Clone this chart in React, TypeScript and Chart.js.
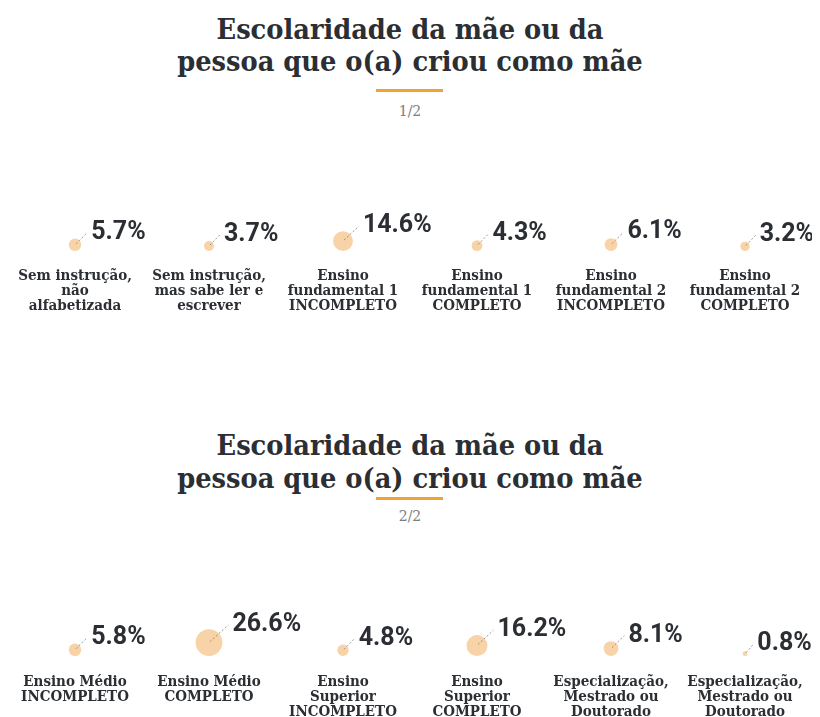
import React, { useEffect, useRef } from "react";
import { Chart, registerables } from "chart.js";

Chart.register(...registerables);

// ---------- data ----------
const titleLines = ["Escolaridade da mãe ou da", "pessoa que o(a) criou como mãe"];
const pageLabels = ["1/2", "2/2"];

const categories1: string[][] = [
  ["Sem instrução,", "não", "alfabetizada"],
  ["Sem instrução,", "mas sabe ler e", "escrever"],
  ["Ensino", "fundamental 1", "INCOMPLETO"],
  ["Ensino", "fundamental 1", "COMPLETO"],
  ["Ensino", "fundamental 2", "INCOMPLETO"],
  ["Ensino", "fundamental 2", "COMPLETO"],
];
const values1 = [5.7, 3.7, 14.6, 4.3, 6.1, 3.2];

const categories2: string[][] = [
  ["Ensino Médio", "INCOMPLETO"],
  ["Ensino Médio", "COMPLETO"],
  ["Ensino", "Superior", "INCOMPLETO"],
  ["Ensino", "Superior", "COMPLETO"],
  ["Especialização,", "Mestrado ou", "Doutorado"],
  ["Especialização,", "Mestrado ou", "Doutorado"],
];
const values2 = [5.8, 26.6, 4.8, 16.2, 8.1, 0.8];

// ---------- style ----------
const TEXT = "#2b2e33";
const BUBBLE = "#F8D3A7";
const ORANGE = "#F0A233";
const SLAB = "'DejaVu Serif Condensed', 'DejaVu Serif', serif";
const RADIUS_K = 2.6;

const bubbleLabelPlugin = {
  id: "bubbleLabels",
  afterDatasetsUpdate(chart: any) {
    const y0 = chart.scales.y.getPixelForValue(0);
    chart.getDatasetMeta(0).data.forEach((el: any) => {
      const r = el.options.radius;
      el.y = y0 - r;
    });
  },
  afterDatasetsDraw(chart: any) {
    const ctx = chart.ctx;
    const vals: number[] = chart.data.datasets[0].values;
    ctx.save();
    chart.getDatasetMeta(0).data.forEach((el: any, i: number) => {
      const r = el.options.radius;
      const lx = el.x + r + 10;
      const by = el.y - r * 0.75 - 1.5;
      ctx.strokeStyle = "#7d7d7d";
      ctx.lineWidth = 0.8;
      ctx.setLineDash([2, 2]);
      ctx.beginPath();
      ctx.moveTo(el.x + 1, el.y - 1);
      ctx.lineTo(lx - 4, by - 6);
      ctx.stroke();
      ctx.setLineDash([]);
      ctx.font = "bold 25px Roboto";
      ctx.fillStyle = TEXT;
      ctx.textAlign = "left";
      ctx.textBaseline = "alphabetic";
      ctx.fillText(vals[i].toFixed(1) + "%", lx, by);
    });
    ctx.restore();
  },
};

function BubbleRow({ labels, values, width, height, pad }: { labels: string[][]; values: number[]; width: number; height: number; pad: number }) {
  const ref = useRef<HTMLCanvasElement>(null);
  useEffect(() => {
    const chart = new Chart(ref.current as HTMLCanvasElement, {
      type: "bubble",
      data: {
        labels: labels as any,
        datasets: [
          {
            data: values.map((v, i) => ({ x: i, y: 0, r: RADIUS_K * Math.sqrt(v) })),
            values,
            backgroundColor: BUBBLE,
            borderWidth: 0,
            hoverRadius: 0,
          } as any,
        ],
      },
      options: {
        responsive: false,
        animation: false,
        events: [],
        layout: { padding: 0, autoPadding: false },
        plugins: { legend: { display: false }, tooltip: { enabled: false } },
        scales: {
          x: {
            type: "category",
            offset: true,
            grid: { display: false, drawTicks: false },
            border: { display: false },
            afterFit: (scale: any) => {
              scale.paddingLeft = 0;
              scale.paddingRight = 0;
            },
            ticks: {
              autoSkip: false,
              maxRotation: 0,
              padding: pad,
              color: TEXT,
              font: { family: SLAB, weight: "bold", size: 15, lineHeight: "15px" } as any,
            },
          },
          y: { display: false, min: 0, max: 1 },
        },
      } as any,
      plugins: [bubbleLabelPlugin],
    });
    return () => chart.destroy();
  }, []);
  return <canvas ref={ref} width={width} height={height} style={{ display: "block", width, height }} />;
}

function Header({ titleTop, barTop, pageTop, page }: { titleTop: number; barTop: number; pageTop: number; page: string }) {
  return (
    <>
      <div
        style={{
          position: "absolute",
          top: titleTop,
          left: 0,
          width: 820,
          textAlign: "center",
          fontFamily: SLAB,
          fontWeight: 700,
          fontStretch: "condensed",
          fontSize: 28.6,
          lineHeight: "32.5px",
          color: TEXT,
        }}
      >
        {titleLines.map((l, i) => (
          <div key={i}>{l}</div>
        ))}
      </div>
      <div style={{ position: "absolute", top: barTop, left: 376, width: 67, height: 3.2, background: ORANGE }} />
      <div
        style={{
          position: "absolute",
          top: pageTop,
          left: 0,
          width: 820,
          textAlign: "center",
          fontFamily: "'DejaVu Serif', serif",
          fontSize: 14,
          lineHeight: "16px",
          color: "#7d7d7d",
        }}
      >
        {page}
      </div>
    </>
  );
}

export default function App() {
  useEffect(() => {
    document.body.style.margin = "0";
    document.body.style.overflow = "hidden";
    document.body.style.background = "#ffffff";
  }, []);
  return (
    <div style={{ position: "relative", width: 820, height: 717, overflow: "hidden", background: "#fff" }}>
      <Header titleTop={12.5} barTop={88.5} pageTop={103} page={pageLabels[0]} />
      <div style={{ position: "absolute", top: 190, left: 8 }}>
        <BubbleRow labels={categories1} values={values1} width={804} height={122} pad={18} />
      </div>
      <Header titleTop={429} barTop={497.3} pageTop={508} page={pageLabels[1]} />
      <div style={{ position: "absolute", top: 590, left: 8 }}>
        <BubbleRow labels={categories2} values={values2} width={804} height={132} pad={19} />
      </div>
    </div>
  );
}
